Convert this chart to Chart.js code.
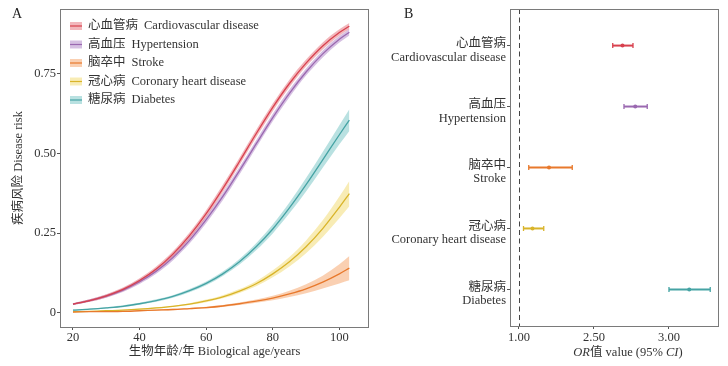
<!DOCTYPE html>
<html>
<head>
<meta charset="utf-8">
<script src="https://cdn.jsdelivr.net/npm/chart.js@4"></script>
<style>
  body { margin: 0; background: #fff; }
  #wrap { position: relative; width: 728px; height: 366px; background: #fff; }
  .pane { position: absolute; top: 0; height: 366px; }
  .tag { position: absolute; font: 14px "Liberation Serif", serif; color: #222; }
</style>
</head>
<body>
<div id="wrap">
  <div class="pane" style="left:0;width:380px"><canvas id="chartA"></canvas></div>
  <div class="pane" style="left:380px;width:348px"><canvas id="chartB"></canvas></div>
  <span class="tag" style="left:12px;top:6px">A</span>
  <span class="tag" style="left:404px;top:6px">B</span>
</div>
<script>
// ---- panel A data ----
const ages = [20, 25, 30, 35, 40, 45, 50, 55, 60, 65, 70, 75, 80, 85, 90, 95, 100, 103];

const cvdMean = [0.027, 0.038, 0.053, 0.073, 0.101, 0.137, 0.184, 0.242, 0.311, 0.390, 0.475, 0.562, 0.645, 0.720, 0.784, 0.838, 0.880, 0.900];
const cvdLow  = [0.024, 0.034, 0.048, 0.067, 0.094, 0.129, 0.175, 0.232, 0.300, 0.378, 0.463, 0.550, 0.633, 0.708, 0.773, 0.827, 0.870, 0.890];
const cvdHigh = [0.030, 0.042, 0.058, 0.079, 0.108, 0.145, 0.193, 0.252, 0.322, 0.402, 0.487, 0.574, 0.657, 0.732, 0.795, 0.849, 0.890, 0.910];

const htMean = [0.027, 0.038, 0.052, 0.071, 0.097, 0.130, 0.173, 0.227, 0.292, 0.365, 0.446, 0.530, 0.613, 0.689, 0.756, 0.813, 0.859, 0.881];
const htLow  = [0.024, 0.034, 0.047, 0.065, 0.090, 0.122, 0.164, 0.217, 0.281, 0.353, 0.434, 0.518, 0.601, 0.677, 0.745, 0.802, 0.849, 0.871];
const htHigh = [0.030, 0.042, 0.057, 0.077, 0.104, 0.138, 0.182, 0.237, 0.303, 0.377, 0.458, 0.542, 0.625, 0.701, 0.767, 0.824, 0.869, 0.891];

const strokeMean = [0.002, 0.003, 0.003, 0.004, 0.006, 0.008, 0.010, 0.013, 0.016, 0.021, 0.028, 0.036, 0.046, 0.059, 0.075, 0.096, 0.122, 0.140];
const strokeLow  = [0.001, 0.002, 0.002, 0.003, 0.005, 0.006, 0.008, 0.011, 0.013, 0.018, 0.024, 0.031, 0.039, 0.049, 0.061, 0.076, 0.092, 0.102];
const strokeHigh = [0.003, 0.004, 0.004, 0.005, 0.007, 0.010, 0.012, 0.015, 0.019, 0.024, 0.032, 0.041, 0.053, 0.069, 0.089, 0.116, 0.152, 0.178];

const chdMean = [0.003, 0.004, 0.006, 0.008, 0.011, 0.015, 0.020, 0.027, 0.037, 0.050, 0.068, 0.091, 0.122, 0.160, 0.207, 0.264, 0.331, 0.374];
const chdLow  = [0.002, 0.003, 0.005, 0.007, 0.009, 0.013, 0.018, 0.024, 0.033, 0.045, 0.062, 0.083, 0.111, 0.145, 0.187, 0.238, 0.297, 0.334];
const chdHigh = [0.004, 0.005, 0.007, 0.009, 0.013, 0.017, 0.022, 0.030, 0.041, 0.055, 0.074, 0.099, 0.133, 0.175, 0.227, 0.290, 0.365, 0.414];

const dmMean = [0.008, 0.011, 0.015, 0.020, 0.028, 0.038, 0.051, 0.069, 0.092, 0.122, 0.160, 0.207, 0.263, 0.329, 0.402, 0.480, 0.559, 0.605];
const dmLow  = [0.006, 0.009, 0.013, 0.017, 0.025, 0.034, 0.047, 0.064, 0.086, 0.115, 0.151, 0.196, 0.249, 0.312, 0.381, 0.455, 0.529, 0.571];
const dmHigh = [0.010, 0.013, 0.017, 0.023, 0.031, 0.042, 0.055, 0.074, 0.098, 0.129, 0.169, 0.218, 0.277, 0.346, 0.423, 0.505, 0.589, 0.639];

const xTicksA = [20, 40, 60, 80, 100];
const yTicksA = [0, 0.25, 0.5, 0.75];
const yTickLabelsA = ['0', '0.25', '0.50', '0.75'];

// ---- shared category names (legend order) ----
const namesCN = ['心血管病', '高血压', '脑卒中', '冠心病', '糖尿病'];
const namesEN = ['Cardiovascular disease', 'Hypertension', 'Stroke', 'Coronary heart disease', 'Diabetes'];
const lineColors = ['#d8414e', '#9a68b0', '#e8792c', '#d9b42a', '#45a3a4'];
const bandColors = ['rgba(226,96,106,0.45)', 'rgba(165,115,190,0.45)', 'rgba(244,150,85,0.45)', 'rgba(240,212,90,0.45)', 'rgba(100,188,188,0.45)'];

// ---- panel B data (OR and 95% CI, read on the drawn axis) ----
const orMean = [2.38, 2.55, 1.40, 1.18, 3.27];
const orLow  = [2.25, 2.40, 1.13, 1.06, 3.00];
const orHigh = [2.52, 2.71, 1.71, 1.33, 3.55];
const xTicksB = [1, 2, 3];
const xTickLabelsB = ['1.00', '2.50', '3.00'];

const FONT = '"Liberation Serif", "Noto Sans CJK SC", serif';
Chart.defaults.font.family = FONT;
Chart.defaults.font.size = 12.5;
Chart.defaults.color = '#333';

const frame = {
  id: 'frame',
  afterDatasetsDraw(chart) {
    const { ctx, chartArea: a } = chart;
    ctx.save();
    ctx.strokeStyle = '#7a7a7a';
    ctx.lineWidth = 1;
    ctx.strokeRect(Math.round(a.left) + 0.5, Math.round(a.top) + 0.5,
      Math.round(a.right - a.left) - 1, Math.round(a.bottom - a.top));
    ctx.restore();
  }
};

const tickGrid = { drawOnChartArea: false, drawTicks: true, tickLength: 3, color: '#555' };
const noPad = s => { s.paddingTop = 0; s.paddingBottom = 0; s.paddingLeft = 0; s.paddingRight = 0; };

// ---- panel A ----
const series = [
  [cvdMean, cvdLow, cvdHigh],
  [htMean, htLow, htHigh],
  [strokeMean, strokeLow, strokeHigh],
  [chdMean, chdLow, chdHigh],
  [dmMean, dmLow, dmHigh],
];
const pts = arr => arr.map((v, i) => ({ x: ages[i], y: v }));
const datasetsA = [];
series.forEach(([m, lo, hi], k) => {
  datasetsA.push({ data: pts(hi), borderWidth: 0, pointRadius: 0, fill: '+1',
    backgroundColor: bandColors[k], cubicInterpolationMode: 'monotone', order: 2 });
  datasetsA.push({ data: pts(lo), borderWidth: 0, pointRadius: 0, fill: false,
    cubicInterpolationMode: 'monotone', order: 2 });
  datasetsA.push({ data: pts(m), borderColor: lineColors[k], borderWidth: 1.3, pointRadius: 0,
    fill: false, cubicInterpolationMode: 'monotone', order: 1 });
});

const legendA = {
  id: 'legendA',
  afterDraw(chart) {
    const ctx = chart.ctx;
    ctx.save();
    ctx.font = '12.5px ' + FONT;
    ctx.textBaseline = 'middle';
    namesCN.forEach((cn, k) => {
      const y = 26 + k * 18.5;
      ctx.fillStyle = bandColors[k];
      ctx.fillRect(70, y - 4, 12, 8);
      ctx.strokeStyle = lineColors[k];
      ctx.lineWidth = 1.2;
      ctx.beginPath(); ctx.moveTo(70, y); ctx.lineTo(82, y); ctx.stroke();
      ctx.fillStyle = '#333';
      ctx.fillText(cn, 88, y);
      ctx.fillText(namesEN[k], 88 + ctx.measureText(cn).width + 6, y);
    });
    ctx.restore();
  }
};

new Chart(document.getElementById('chartA'), {
  type: 'line',
  data: { datasets: datasetsA },
  options: {
    responsive: true, maintainAspectRatio: false, animation: false,
    layout: { padding: { top: 9, right: 11 } },
    plugins: { legend: { display: false }, tooltip: { enabled: false } },
    scales: {
      x: {
        type: 'linear', min: 16.1, max: 108.9,
        afterBuildTicks: s => { s.ticks = xTicksA.map(v => ({ value: v })); },
        afterFit: s => { s.height = 39; noPad(s); },
        ticks: { padding: 0, color: '#333' },
        grid: tickGrid, border: { display: false },
        title: { display: true, text: '生物年龄/年 Biological age/years', color: '#333',
          padding: { top: 0, bottom: 7 } }
      },
      y: {
        min: -0.045, max: 0.954,
        afterBuildTicks: s => { s.ticks = yTicksA.map(v => ({ value: v })); },
        afterFit: s => { s.width = 60; noPad(s); },
        ticks: { padding: 1, color: '#333', callback: v => yTickLabelsA[yTicksA.indexOf(v)] },
        grid: tickGrid, border: { display: false },
        title: { display: true, text: '疾病风险 Disease risk', color: '#333',
          padding: { top: 11, bottom: 0 } }
      }
    }
  },
  plugins: [frame, legendA]
});

// ---- panel B ----
const errorBars = {
  id: 'errorBars',
  beforeDatasetsDraw(chart) {
    const { ctx, scales: { x, y }, chartArea: a } = chart;
    ctx.save();
    // reference line at OR = 1
    const x1 = Math.round(x.getPixelForValue(1)) + 0.5;
    ctx.strokeStyle = '#444';
    ctx.lineWidth = 1;
    ctx.setLineDash([5, 3.5]);
    ctx.beginPath(); ctx.moveTo(x1, a.top); ctx.lineTo(x1, a.bottom); ctx.stroke();
    ctx.setLineDash([]);
    orMean.forEach((m, i) => {
      const yp = y.getPixelForValue(i);
      const xl = x.getPixelForValue(orLow[i]);
      const xh = x.getPixelForValue(orHigh[i]);
      ctx.strokeStyle = lineColors[i];
      ctx.lineWidth = 2;
      ctx.beginPath(); ctx.moveTo(xl, yp); ctx.lineTo(xh, yp); ctx.stroke();
      ctx.lineWidth = 1.3;
      ctx.beginPath();
      ctx.moveTo(xl, yp - 2.5); ctx.lineTo(xl, yp + 2.5);
      ctx.moveTo(xh, yp - 2.5); ctx.lineTo(xh, yp + 2.5);
      ctx.stroke();
    });
    ctx.restore();
  }
};

const titleB = {
  id: 'titleB',
  afterDraw(chart) {
    const ctx = chart.ctx;
    const parts = [['OR', true], ['值 value (95% ', false], ['CI', true], [')', false]];
    ctx.save();
    ctx.fillStyle = '#333';
    ctx.textBaseline = 'middle';
    let w = 0;
    parts.forEach(([t, it]) => { ctx.font = (it ? 'italic ' : '') + '12.5px ' + FONT; w += ctx.measureText(t).width; });
    let xp = 248 - w / 2;
    parts.forEach(([t, it]) => {
      ctx.font = (it ? 'italic ' : '') + '12.5px ' + FONT;
      ctx.fillText(t, xp, 353);
      xp += ctx.measureText(t).width;
    });
    ctx.restore();
  }
};

new Chart(document.getElementById('chartB'), {
  type: 'scatter',
  data: {
    datasets: [{
      data: orMean.map((m, i) => ({ x: m, y: i })),
      pointRadius: 2, pointBorderWidth: 0,
      pointBackgroundColor: lineColors, pointBorderColor: lineColors
    }]
  },
  options: {
    responsive: true, maintainAspectRatio: false, animation: false,
    layout: { padding: { top: 9, right: 9 } },
    plugins: { legend: { display: false }, tooltip: { enabled: false } },
    scales: {
      x: {
        type: 'linear', min: 0.88, max: 3.667,
        afterBuildTicks: s => { s.ticks = xTicksB.map(v => ({ value: v })); },
        afterFit: s => { s.height = 40; noPad(s); },
        ticks: { padding: 1, color: '#333', callback: v => xTickLabelsB[xTicksB.indexOf(v)] },
        grid: tickGrid, border: { display: false }
      },
      y: {
        type: 'linear', min: -0.6, max: 4.6, reverse: true,
        afterBuildTicks: s => { s.ticks = namesCN.map((n, i) => ({ value: i })); },
        afterFit: s => { s.width = 130; noPad(s); },
        ticks: { padding: 1, labelOffset: 5, color: '#333', font: { size: 12.5, lineHeight: 1.07 },
          callback: v => [namesCN[v], namesEN[v]] },
        grid: tickGrid, border: { display: false }
      }
    }
  },
  plugins: [frame, errorBars, titleB]
});
</script>
</body>
</html>
